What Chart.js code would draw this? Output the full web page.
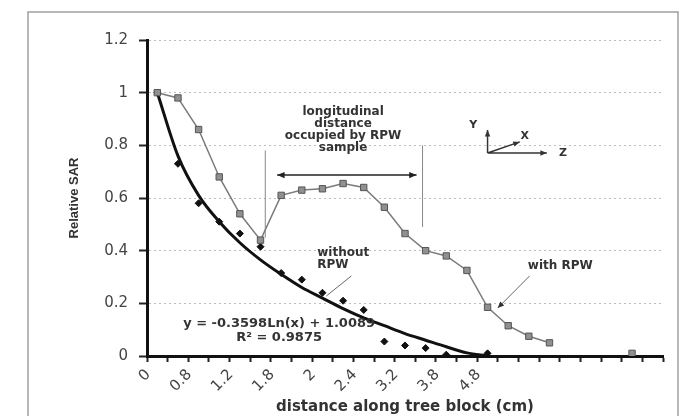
<!DOCTYPE html>
<html lang="en">
<head>
    <meta charset="UTF-8">
    <title>Relative SAR</title>
    <script src="https://cdn.jsdelivr.net/npm/chart.js"></script>
    <style>
        body {
            margin: 0;
            padding: 0;
            background-color: #ffffff;
        }

        .chart-box {
            width: 684px;
            height: 416px;
        }
    </style>
</head>
<body>
    <div class="chart-box">
        <canvas id="sarChart" width="684" height="416"></canvas>
    </div>
    <script>
        // category labels (only every other one printed)
        var distLabels = ['0', '', '0.8', '', '1.2', '', '1.8', '', '2', '', '2.4', '', '3.2', '', '3.8', '', '4.8', '', '', '', '', '', '', '', ''];

        var withRpw = [1.0, 0.98, 0.86, 0.68, 0.54, 0.44, 0.61, 0.63, 0.635, 0.655, 0.64, 0.565, 0.465, 0.40, 0.38, 0.325, 0.185, 0.115, 0.075, 0.05, null, null, null, 0.01, null];
        var withoutRpw = [1.0, 0.73, 0.58, 0.51, 0.465, 0.415, 0.315, 0.29, 0.24, 0.21, 0.175, 0.055, 0.04, 0.03, 0.005, null, 0.01, null, null, null, null, null, null, null, null];
        // log trendline
        var trendVals = [1.0, 0.76, 0.61, 0.51, 0.43, 0.365, 0.31, 0.26, 0.22, 0.18, 0.145, 0.115, 0.085, 0.06, 0.035, 0.012, 0, null, null, null, null, null, null, null, null];

        var noteFont = 'bold 12px "DejaVu Sans"';

        // frame around the scanned figure
        var framePlugin = {
            id: 'frame',
            beforeDraw: function (chart) {
                var ctx = chart.ctx;
                ctx.save();
                ctx.fillStyle = '#ffffff';
                ctx.fillRect(0, 0, chart.width, chart.height);
                ctx.strokeStyle = '#a0a0a0';
                ctx.lineWidth = 1.5;
                ctx.beginPath();
                ctx.moveTo(28, chart.height);
                ctx.lineTo(28, 12);
                ctx.lineTo(678, 12);
                ctx.lineTo(678, chart.height);
                ctx.stroke();
                ctx.restore();
            }
        };

        function arrowHead(ctx, x1, y1, x2, y2, size) {
            var a = Math.atan2(y2 - y1, x2 - x1);
            ctx.beginPath();
            ctx.moveTo(x2, y2);
            ctx.lineTo(x2 - size * Math.cos(a - 0.4), y2 - size * Math.sin(a - 0.4));
            ctx.lineTo(x2 - size * Math.cos(a + 0.4), y2 - size * Math.sin(a + 0.4));
            ctx.closePath();
            ctx.fill();
        }

        var notesPlugin = {
            id: 'notes',
            afterDatasetsDraw: function (chart) {
                var ctx = chart.ctx;
                var xs = chart.scales.x, ys = chart.scales.y;
                var px = function (v) { return xs.getPixelForValue(v); };
                var py = function (v) { return ys.getPixelForValue(v); };

                ctx.save();
                ctx.fillStyle = '#333';
                ctx.font = noteFont;
                ctx.textBaseline = 'middle';

                // longitudinal distance block
                ctx.textAlign = 'center';
                var block = ['longitudinal', 'distance', 'occupied by RPW', 'sample'];
                var blockY = [0.927, 0.881, 0.835, 0.79];
                block.forEach(function (t, i) {
                    ctx.fillText(t, px(9), py(blockY[i]));
                });

                // vertical markers
                ctx.strokeStyle = '#888';
                ctx.lineWidth = 1;
                ctx.beginPath();
                ctx.moveTo(px(5.23), py(0.78));
                ctx.lineTo(px(5.23), py(0.45));
                ctx.moveTo(px(12.85), py(0.80));
                ctx.lineTo(px(12.85), py(0.49));
                ctx.stroke();

                // double arrow
                ctx.strokeStyle = '#222';
                ctx.fillStyle = '#222';
                ctx.lineWidth = 1.5;
                var ax1 = px(5.81), ax2 = px(12.56), ay = py(0.687);
                ctx.beginPath();
                ctx.moveTo(ax1, ay);
                ctx.lineTo(ax2, ay);
                ctx.stroke();
                arrowHead(ctx, ax2, ay, ax1, ay, 8);
                arrowHead(ctx, ax1, ay, ax2, ay, 8);

                // without RPW
                ctx.fillStyle = '#333';
                ctx.textAlign = 'left';
                ctx.fillText('without', px(7.75), py(0.391));
                ctx.fillText('RPW', px(7.75), py(0.346));
                ctx.strokeStyle = '#666';
                ctx.lineWidth = 1;
                ctx.beginPath();
                ctx.moveTo(px(9.4), py(0.304));
                ctx.lineTo(px(8.19), py(0.228));
                ctx.stroke();

                // with RPW
                ctx.fillText('with RPW', px(17.95), py(0.342));
                var wx1 = px(18.04), wy1 = py(0.304), wx2 = px(16.49), wy2 = py(0.182);
                ctx.beginPath();
                ctx.moveTo(wx1, wy1);
                ctx.lineTo(wx2, wy2);
                ctx.stroke();
                ctx.fillStyle = '#333';
                arrowHead(ctx, wx1, wy1, wx2, wy2, 7);

                // trendline equation
                ctx.textAlign = 'center';
                ctx.font = 'bold 13px "DejaVu Sans"';
                ctx.fillText('y = -0.3598Ln(x) + 1.0089', px(5.9), py(0.122));
                ctx.fillText('R\u00b2 = 0.9875', px(5.9), py(0.068));

                // axis triad
                var ox = px(16), oy = py(0.771);
                ctx.strokeStyle = '#333';
                ctx.lineWidth = 1.5;
                ctx.beginPath();
                ctx.moveTo(ox, oy); ctx.lineTo(ox, py(0.858));
                ctx.moveTo(ox, oy); ctx.lineTo(px(18.87), oy);
                ctx.moveTo(ox, oy); ctx.lineTo(px(17.56), py(0.813));
                ctx.stroke();
                arrowHead(ctx, ox, oy, ox, py(0.858), 7);
                arrowHead(ctx, ox, oy, px(18.87), oy, 7);
                arrowHead(ctx, ox, oy, px(17.56), py(0.813), 7);
                ctx.font = 'bold 11px "DejaVu Sans"';
                ctx.fillText('Y', px(15.3), py(0.877));
                ctx.fillText('X', px(17.8), py(0.835));
                ctx.fillText('Z', px(19.66), oy);
                ctx.restore();
            }
        };

        var ctx1 = document.getElementById('sarChart').getContext('2d');
        var chart1 = new Chart(ctx1, {
            type: 'line',
            data: {
                labels: distLabels,
                datasets: [{
                    label: 'with RPW',
                    data: withRpw,
                    borderColor: '#7a7a7a',
                    borderWidth: 1.5,
                    pointStyle: 'rect',
                    pointRadius: 4.5,
                    pointBackgroundColor: '#909090',
                    pointBorderColor: '#555',
                    pointBorderWidth: 1,
                    spanGaps: false,
                    order: 1
                }, {
                    label: 'without RPW',
                    data: withoutRpw,
                    showLine: false,
                    pointStyle: 'rectRot',
                    pointRadius: 3.5,
                    pointBackgroundColor: '#111',
                    pointBorderColor: '#111',
                    order: 3
                }, {
                    label: 'Log. (without RPW)',
                    data: trendVals,
                    borderColor: '#111',
                    borderWidth: 3,
                    pointRadius: 0,
                    cubicInterpolationMode: 'monotone',
                    order: 2
                }]
            },
            options: {
                responsive: false,
                animation: false,
                layout: {
                    padding: { left: 67, right: 21, top: 40, bottom: 0 }
                },
                plugins: {
                    legend: { display: false },
                    tooltip: { enabled: false }
                },
                scales: {
                    x: {
                        offset: true,
                        afterFit: function (s) { s.height = 60; },
                        grid: {
                            offset: true,
                            drawOnChartArea: false,
                            tickLength: 6,
                            tickColor: '#222',
                            tickWidth: 2
                        },
                        border: { color: '#111', width: 3 },
                        ticks: {
                            autoSkip: false,
                            minRotation: 45,
                            maxRotation: 45,
                            labelOffset: -9,
                            padding: 4,
                            color: '#444',
                            font: { family: '"DejaVu Sans"', size: 15 }
                        },
                        title: {
                            display: true,
                            text: 'distance along tree block (cm)',
                            color: '#333',
                            padding: 0,
                            font: { family: '"DejaVu Sans"', size: 15, weight: 'bold' }
                        }
                    },
                    y: {
                        min: 0,
                        max: 1.2,
                        afterFit: function (s) { s.width = 80; },
                        grid: {
                            color: '#bdbdbd',
                            tickLength: 8,
                            tickColor: '#222',
                            tickWidth: 2
                        },
                        border: { color: '#111', width: 3, dash: [2, 3] },
                        ticks: {
                            stepSize: 0.2,
                            padding: 11,
                            color: '#444',
                            font: { family: '"DejaVu Sans"', size: 15 },
                            callback: function (v) { return String(Number(v.toFixed(1))); }
                        },
                        title: {
                            display: true,
                            text: 'Relative SAR',
                            color: '#333',
                            padding: 0,
                            font: { family: '"Liberation Sans"', size: 13, weight: 'bold' }
                        }
                    }
                }
            },
            plugins: [framePlugin, notesPlugin]
        });
    </script>
</body>
</html>
